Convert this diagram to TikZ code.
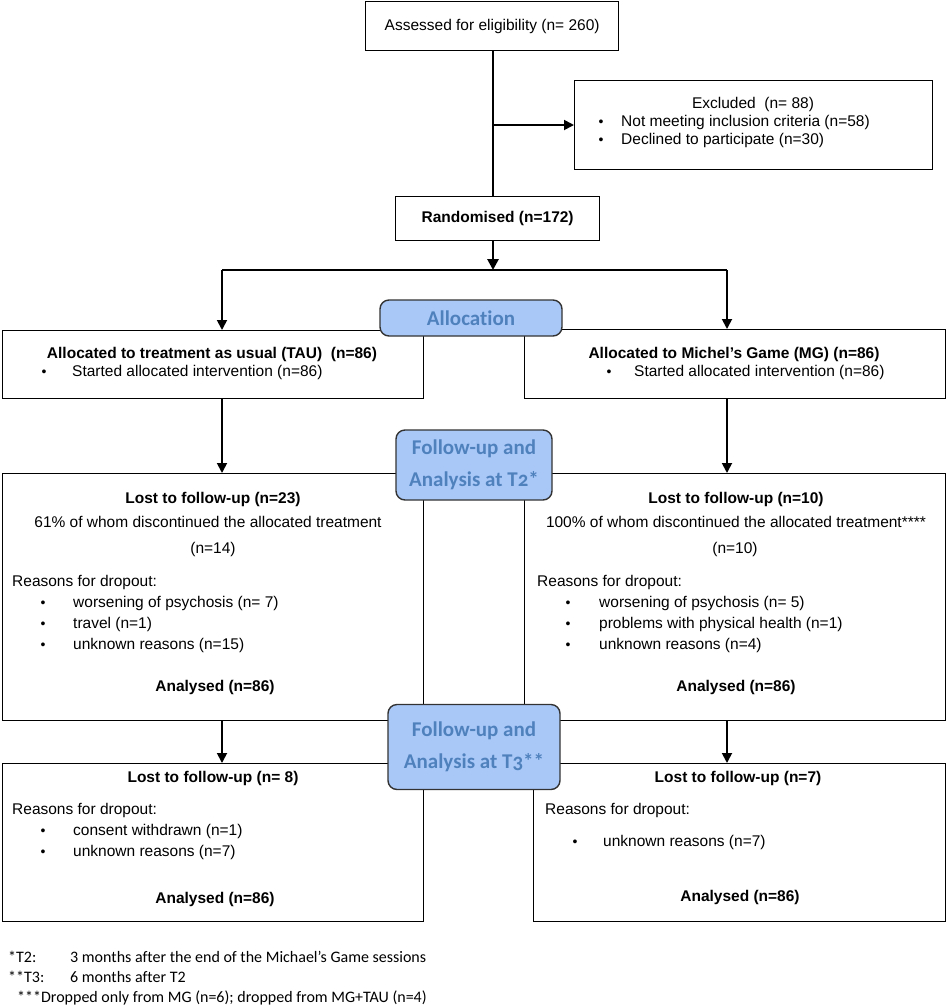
\documentclass[tikz,border=0pt]{standalone}
\usepackage{fontspec}
\setmainfont{Liberation Sans}
\newfontfamily\labfont{Carlito}[Numbers=OldStyle,Ligatures=NoCommon]
\newfontfamily\notefont{Carlito}[Ligatures=NoCommon]
\usetikzlibrary{arrows.meta}
\definecolor{labfill}{RGB}{169,200,248}
\definecolor{labtext}{RGB}{79,129,189}
\begin{document}
\begin{tikzpicture}[x=1pt,y=-1pt,
  box/.style={draw, line width=1.3pt, inner sep=0pt, anchor=north west, font=\fontsize{15.5}{18}\selectfont},
  txt/.style={inner sep=0pt, font=\fontsize{15.5}{18}\selectfont},
  bt/.style={inner sep=0pt, font=\fontsize{15.5}{18}\selectfont\bfseries},
  bul/.style={inner sep=0pt, anchor=base, font=\fontsize{14}{16}\selectfont},
  lab/.style={draw=black!80, line width=1.4pt, fill=labfill, rounded corners=9pt, text=labtext, font=\labfont\bfseries\fontsize{21}{32}\selectfont, align=center, inner sep=0pt},
  conn/.style={line width=1.8pt},
  arr/.style={conn, -{Triangle[length=10pt,width=10pt]}},
  spine/.style={line width=2.8pt},
  note/.style={inner sep=0pt, anchor=base west, font=\notefont\fontsize{16}{18}\selectfont}]
\useasboundingbox (0,0) rectangle (947,1005);

% boxes
\node[box, minimum width=253pt, minimum height=49pt] (assess) at (365,1) {Assessed for eligibility (n= 260)};
\node[box, minimum width=358pt, minimum height=89pt] (excl) at (574,80) {};
\node[box, minimum width=204pt, minimum height=44pt, font=\fontsize{15.5}{18}\selectfont\bfseries] (rand) at (395,196) {Randomised (n=172)};
\node[box, minimum width=421pt, minimum height=68pt] (allocL) at (2,330) {};
\node[box, minimum width=421pt, minimum height=69pt] (allocR) at (524,329) {};
\node[box, minimum width=421pt, minimum height=247pt] (lostL) at (2,473) {};
\node[box, minimum width=421pt, minimum height=247pt] (lostR) at (524,473) {};
\node[box, minimum width=421pt, minimum height=158pt] (botL) at (2,763) {};
\node[box, minimum width=412pt, minimum height=158pt] (botR) at (533,763) {};

% excluded text
\node[txt, anchor=base] (exT) at (753,108) {Excluded\ \ (n= 88)};
\node[bul] (exB1) at (601,126) {\textbullet};
\node[txt, anchor=base west] (exI1) at (621,126) {Not meeting inclusion criteria (n=58)};
\node[bul] (exB2) at (601,144) {\textbullet};
\node[txt, anchor=base west] (exI2) at (621,144) {Declined to participate (n=30)};

% allocation texts
\node[bt, anchor=base] (alT) at (212,358) {Allocated to treatment as usual (TAU)\ \ (n=86)};
\node[bul] (alB) at (44,376) {\textbullet};
\node[txt, anchor=base west] (alI) at (72,376) {Started allocated intervention (n=86)};
\node[bt, anchor=base] (arT) at (734,358) {Allocated to Michel’s Game (MG) (n=86)};
\node[bul] (arB) at (609,376) {\textbullet};
\node[txt, anchor=base west] (arI) at (634,376) {Started allocated intervention (n=86)};

% lost T2 left
\node[bt, anchor=base] (l1) at (213,503) {Lost to follow-up (n=23)};
\node[txt, anchor=base] (l2) at (208,527) {61\% of whom discontinued the allocated treatment};
\node[txt, anchor=base] (l3) at (213,553) {(n=14)};
\node[txt, anchor=base west] (l4) at (12,586) {Reasons for dropout:};
\node[bul] (lb1) at (43,607) {\textbullet};
\node[txt, anchor=base west] (l5) at (73,607) {worsening of psychosis (n= 7)};
\node[bul] (lb2) at (43,628) {\textbullet};
\node[txt, anchor=base west] (l6) at (73,628) {travel (n=1)};
\node[bul] (lb3) at (43,649) {\textbullet};
\node[txt, anchor=base west] (l7) at (73,649) {unknown reasons (n=15)};
\node[bt, anchor=base] (l8) at (215,691) {Analysed (n=86)};

% lost T2 right
\node[bt, anchor=base] (r1) at (736,503) {Lost to follow-up (n=10)};
\node[txt, anchor=base] (r2) at (736,527) {100\% of whom discontinued the allocated treatment****};
\node[txt, anchor=base] (r3) at (735,553) {(n=10)};
\node[txt, anchor=base west] (r4) at (537,586) {Reasons for dropout:};
\node[bul] (rb1) at (568,607) {\textbullet};
\node[txt, anchor=base west] (r5) at (599,607) {worsening of psychosis (n= 5)};
\node[bul] (rb2) at (568,628) {\textbullet};
\node[txt, anchor=base west] (r6) at (599,628) {problems with physical health (n=1)};
\node[bul] (rb3) at (568,649) {\textbullet};
\node[txt, anchor=base west] (r7) at (599,649) {unknown reasons (n=4)};
\node[bt, anchor=base] (r8) at (736,691) {Analysed (n=86)};

% bottom left
\node[bt, anchor=base] (b1) at (213,782) {Lost to follow-up (n= 8)};
\node[txt, anchor=base west] (b2) at (12,814) {Reasons for dropout:};
\node[bul] (bb1) at (43,835) {\textbullet};
\node[txt, anchor=base west] (b3) at (73,835) {consent withdrawn (n=1)};
\node[bul] (bb2) at (43,856) {\textbullet};
\node[txt, anchor=base west] (b4) at (73,856) {unknown reasons (n=7)};
\node[bt, anchor=base] (b5) at (215,903) {Analysed (n=86)};

% bottom right
\node[bt, anchor=base] (c1) at (738,782) {Lost to follow-up (n=7)};
\node[txt, anchor=base west] (c2) at (545,814) {Reasons for dropout:};
\node[bul] (cb1) at (575,846) {\textbullet};
\node[txt, anchor=base west] (c3) at (603,846) {unknown reasons (n=7)};
\node[bt, anchor=base] (c5) at (740,901) {Analysed (n=86)};

% connectors
\coordinate (split) at (493,270);
\coordinate (br) at (493,125);
\coordinate (sL) at (222,270);
\coordinate (sR) at (727,270);
\draw[spine] (split |- assess.south) -- (split |- rand.north);
\draw[arr] (br) -- (br -| excl.west);
\draw[spine, -{Triangle[length=11pt,width=11pt]}] (split |- rand.south) -- (split);
\draw[conn] (sL) -- (sR);
\draw[arr] (sL) -- (sL |- allocL.north);
\draw[arr] (sR) -- (sR |- allocR.north);
\draw[arr] (sL |- allocL.south) -- (sL |- lostL.north);
\draw[arr] (sR |- allocR.south) -- (sR |- lostR.north);
\draw[arr] (sL |- lostL.south) -- (sL |- botL.north);
\draw[arr] (sR |- lostR.south) -- (sR |- botR.north);

% phase labels
\node[lab, minimum width=182pt, minimum height=36pt] (labA) at (471,318) {Allocation};
\node[lab, minimum width=156pt, minimum height=70pt] (labT2) at (474,465) {Follow-up and\\Analysis at T2*};
\node[lab, minimum width=172pt, minimum height=85pt] (labT3) at (474,747) {Follow-up and\\Analysis at T3**};

% footnotes
\node[note] (n1a) at (8,962) {*T2:};
\node[note] (n1b) at (70,962) {3 months after the end of the Michael’s Game sessions};
\node[note] (n2a) at (8,982) {**T3:};
\node[note] (n2b) at (70,982) {6 months after T2};
\node[note] (n3) at (17,1002) {***Dropped only from MG (n=6); dropped from MG+TAU (n=4)};
\end{tikzpicture}
\end{document}
